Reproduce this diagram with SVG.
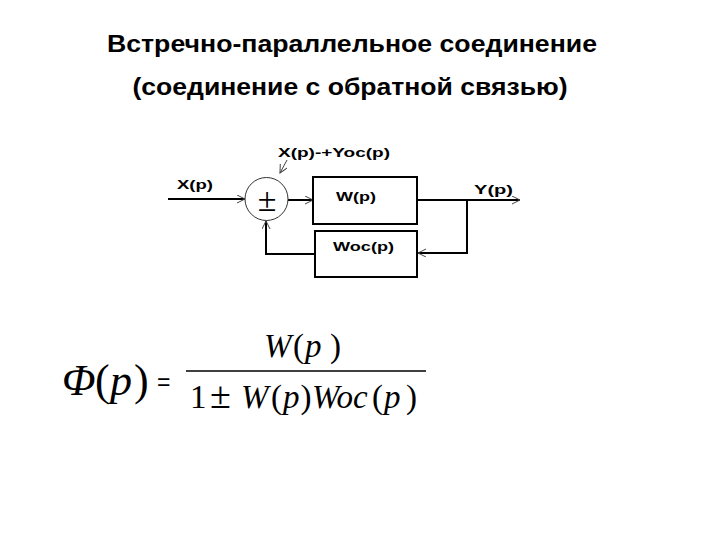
<svg xmlns="http://www.w3.org/2000/svg" width="720" height="540" viewBox="0 0 720 540">
<style>
.title{font-family:"Liberation Sans",Arial,sans-serif;font-weight:bold;font-size:24px;fill:#000}
.lbl{font-family:"Liberation Sans",Arial,sans-serif;font-weight:bold;font-size:13px;fill:#000}
.math{font-family:"Liberation Serif","Times New Roman",serif;fill:#000}
.it{font-style:italic}
.box{fill:#fff;stroke:#000;stroke-width:2}
.wire{fill:none;stroke:#000;stroke-width:2}
</style>
<defs>
<marker id="arr" markerUnits="userSpaceOnUse" markerWidth="10" markerHeight="10" refX="8" refY="4" orient="auto">
<path d="M0,0 L8,4 L0,8" fill="none" stroke="#444" stroke-width="1"/>
</marker>
</defs>
<rect width="720" height="540" fill="#fff"/>
<text class="title" x="352" y="52" text-anchor="middle" textLength="490" lengthAdjust="spacingAndGlyphs">Встречно-параллельное соединение</text>
<text class="title" x="350" y="95" text-anchor="middle" textLength="435" lengthAdjust="spacingAndGlyphs">(соединение с обратной связью)</text>

<g id="connectors">
<line class="wire" x1="168" y1="199" x2="245" y2="199" marker-end="url(#arr)"/>
<line class="wire" x1="288" y1="200" x2="313" y2="200" marker-end="url(#arr)"/>
<polyline class="wire" points="417,200 520,200" marker-end="url(#arr)"/>
<polyline class="wire" points="467,200 467,253 418,253" marker-end="url(#arr)"/>
<polyline class="wire" points="315,254 266,254 266,221" marker-end="url(#arr)"/>
<line x1="287" y1="160" x2="280" y2="173" stroke="#444" stroke-width="1" marker-end="url(#arr)"/>
</g>

<g id="sum">
<circle cx="266.5" cy="199" r="21.5" fill="#fff" stroke="#333" stroke-width="1"/>
<text class="math" x="267" y="211" font-size="34" text-anchor="middle">±</text>
</g>
<g id="W">
<rect class="box" x="313" y="177" width="104" height="47"/>
<text class="lbl" x="336" y="201" textLength="40" lengthAdjust="spacingAndGlyphs">W(p)</text>
</g>
<g id="Woc">
<rect class="box" x="315" y="231" width="102" height="46"/>
<text class="lbl" x="333" y="251" textLength="61" lengthAdjust="spacingAndGlyphs">Woc(p)</text>
</g>
<g id="labels">
<text class="lbl" x="177" y="189" textLength="36" lengthAdjust="spacingAndGlyphs">X(p)</text>
<text class="lbl" x="278" y="157" textLength="112" lengthAdjust="spacingAndGlyphs">X(p)-+Yoc(p)</text>
<text class="lbl" x="474" y="194" textLength="39" lengthAdjust="spacingAndGlyphs">Y(p)</text>
</g>

<g id="formula">
<text class="math" font-size="44" y="395"><tspan class="it" x="62">Φ</tspan><tspan x="95">(</tspan><tspan class="it" x="110">p</tspan><tspan x="134">)</tspan></text>
<text x="157" y="390" font-family="'Liberation Sans',Arial,sans-serif" font-size="23">=</text>
<line x1="186" y1="371" x2="426" y2="371" stroke="#000" stroke-width="1.5"/>
<text class="math" font-size="33" y="357"><tspan class="it" x="264">W</tspan><tspan x="293">(</tspan><tspan class="it" x="305">p</tspan><tspan x="330">)</tspan></text>
<text class="math" font-size="33" y="408"><tspan x="190">1</tspan><tspan x="210" font-size="38">±</tspan><tspan class="it" x="241">W</tspan><tspan x="271">(</tspan><tspan class="it" x="283">p</tspan><tspan x="300.5">)</tspan><tspan class="it" x="312">Woc</tspan><tspan x="372">(</tspan><tspan class="it" x="384">p</tspan><tspan x="406">)</tspan></text>
</g>
</svg>
